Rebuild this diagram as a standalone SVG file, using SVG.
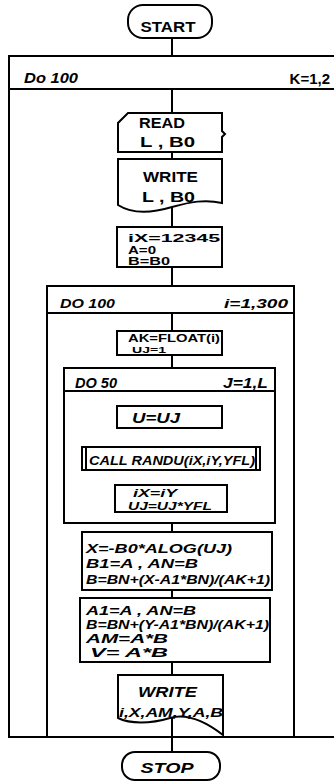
<svg xmlns="http://www.w3.org/2000/svg" width="334" height="781" viewBox="0 0 334 781">
<style>
.s{fill:none;stroke:#000;stroke-width:2}
.b{fill:#fff;stroke:#000;stroke-width:2}
.t{font-family:"Liberation Sans",Arial,sans-serif;font-weight:bold;fill:#000}
.i{font-style:italic}
</style>
<rect width="334" height="781" fill="#fff"/>
<g id="connectors" class="s">
<path d="M172 38V56M172 89V113M172 152V159M172 207V227M172 267V286M172 313V331M172 355V368M172 391V406M172 428V447M172 470V485M172 512V523M172 523V532M172 590V598M172 662V675M172 718V737M172 737V752"/>
</g>
<g id="loop-k">
<path class="s" d="M334 56H9V737H334M9 89H334"/>
<text class="t i" x="24" y="83" font-size="14" textLength="54" lengthAdjust="spacingAndGlyphs">Do 100</text>
<text class="t" x="330" y="84" font-size="15" text-anchor="end">K=1,2</text>
</g>
<g id="start">
<rect class="b" x="128" y="5" width="84" height="33" rx="15"/>
<text class="t" x="168" y="32" font-size="14" text-anchor="middle" textLength="55" lengthAdjust="spacingAndGlyphs">START</text>
</g>
<g id="read">
<path class="b" d="M128 113H222V131L225 134L222 137V152H118V123Z"/>
<text class="t" x="139" y="128" font-size="14" textLength="46" lengthAdjust="spacingAndGlyphs">READ</text>
<text class="t" x="140" y="147" font-size="14" textLength="55" lengthAdjust="spacingAndGlyphs">L , B0</text>
</g>
<g id="write1">
<path class="b" d="M118 159H222V203C205 199 190 202 172 207C152 213 132 214 118 205Z"/>
<text class="t" x="143" y="182" font-size="15" textLength="55" lengthAdjust="spacingAndGlyphs">WRITE</text>
<text class="t" x="142" y="202" font-size="15" textLength="53" lengthAdjust="spacingAndGlyphs">L , B0</text>
</g>
<g id="init">
<rect class="b" x="117" y="227" width="105" height="40"/>
<text class="t" x="128" y="242" font-size="11" textLength="92" lengthAdjust="spacingAndGlyphs">iX=12345</text>
<text class="t" x="128" y="254" font-size="10" textLength="28" lengthAdjust="spacingAndGlyphs">A=0</text>
<text class="t" x="128" y="265" font-size="10" textLength="42" lengthAdjust="spacingAndGlyphs">B=B0</text>
</g>
<g id="loop-i">
<path class="s" d="M47 737V286H294V737M47 313H294"/>
<text class="t i" x="60" y="308" font-size="13" textLength="55" lengthAdjust="spacingAndGlyphs">DO 100</text>
<text class="t i" x="288" y="308" font-size="13" text-anchor="end" textLength="64" lengthAdjust="spacingAndGlyphs">i=1,300</text>
</g>
<g id="ak">
<rect class="b" x="117" y="331" width="105" height="24"/>
<text class="t" x="128" y="342" font-size="10" textLength="92" lengthAdjust="spacingAndGlyphs">AK=FLOAT(i)</text>
<text class="t" x="132" y="353" font-size="9" textLength="34" lengthAdjust="spacingAndGlyphs">UJ=1</text>
</g>
<g id="loop-j">
<path class="b" d="M64 368H275V523H64Z"/>
<path class="s" d="M64 391H275"/>
<text class="t i" x="75" y="388" font-size="14" textLength="42" lengthAdjust="spacingAndGlyphs">DO 50</text>
<text class="t i" x="268" y="388" font-size="14" text-anchor="end" textLength="45" lengthAdjust="spacingAndGlyphs">J=1,L</text>
</g>
<g id="u">
<rect class="b" x="117" y="406" width="105" height="22"/>
<text class="t i" x="132" y="423" font-size="14" textLength="48" lengthAdjust="spacingAndGlyphs">U=UJ</text>
</g>
<g id="randu">
<rect class="b" x="82" y="447" width="178" height="23" stroke-width="3"/>
<path class="s" d="M86 447V470M256 447V470"/>
<text class="t i" x="89" y="465" font-size="12" textLength="166" lengthAdjust="spacingAndGlyphs">CALL RANDU(iX,iY,YFL)</text>
</g>
<g id="update">
<rect class="b" x="115" y="485" width="112" height="27"/>
<text class="t i" x="133" y="497" font-size="11" textLength="44" lengthAdjust="spacingAndGlyphs">iX=iY</text>
<text class="t i" x="128" y="510" font-size="11" textLength="84" lengthAdjust="spacingAndGlyphs">UJ=UJ*YFL</text>
</g>
<g id="calc1">
<rect class="b" x="82" y="532" width="190" height="58"/>
<text class="t i" x="86" y="553" font-size="12" textLength="146" lengthAdjust="spacingAndGlyphs">X=-B0*ALOG(UJ)</text>
<text class="t i" x="86" y="568" font-size="12" textLength="112" lengthAdjust="spacingAndGlyphs">B1=A , AN=B</text>
<text class="t i" x="86" y="584" font-size="12" textLength="184" lengthAdjust="spacingAndGlyphs">B=BN+(X-A1*BN)/(AK+1)</text>
</g>
<g id="calc2">
<rect class="b" x="80" y="598" width="190" height="64"/>
<text class="t i" x="86" y="615" font-size="12" textLength="110" lengthAdjust="spacingAndGlyphs">A1=A , AN=B</text>
<text class="t i" x="86" y="629" font-size="12" textLength="183" lengthAdjust="spacingAndGlyphs">B=BN+(Y-A1*BN)/(AK+1)</text>
<text class="t i" x="86" y="643" font-size="12" textLength="82" lengthAdjust="spacingAndGlyphs">AM=A*B</text>
<text class="t i" x="90" y="657" font-size="12" textLength="78" lengthAdjust="spacingAndGlyphs">V= A*B</text>
</g>
<g id="write2">
<path class="b" d="M118 675H223V735C210 725 190 712 170 718C150 724 130 724 118 718Z"/>
<text class="t i" x="138" y="697" font-size="14" textLength="59" lengthAdjust="spacingAndGlyphs">WRITE</text>
<text class="t i" x="119" y="717" font-size="13" textLength="104" lengthAdjust="spacingAndGlyphs">i,X,AM,Y,A,B</text>
</g>
<g id="stop">
<rect class="b" x="122" y="752" width="98" height="28" rx="13"/>
<text class="t i" x="167" y="773" font-size="14" text-anchor="middle" textLength="53" lengthAdjust="spacingAndGlyphs">STOP</text>
</g>
</svg>
